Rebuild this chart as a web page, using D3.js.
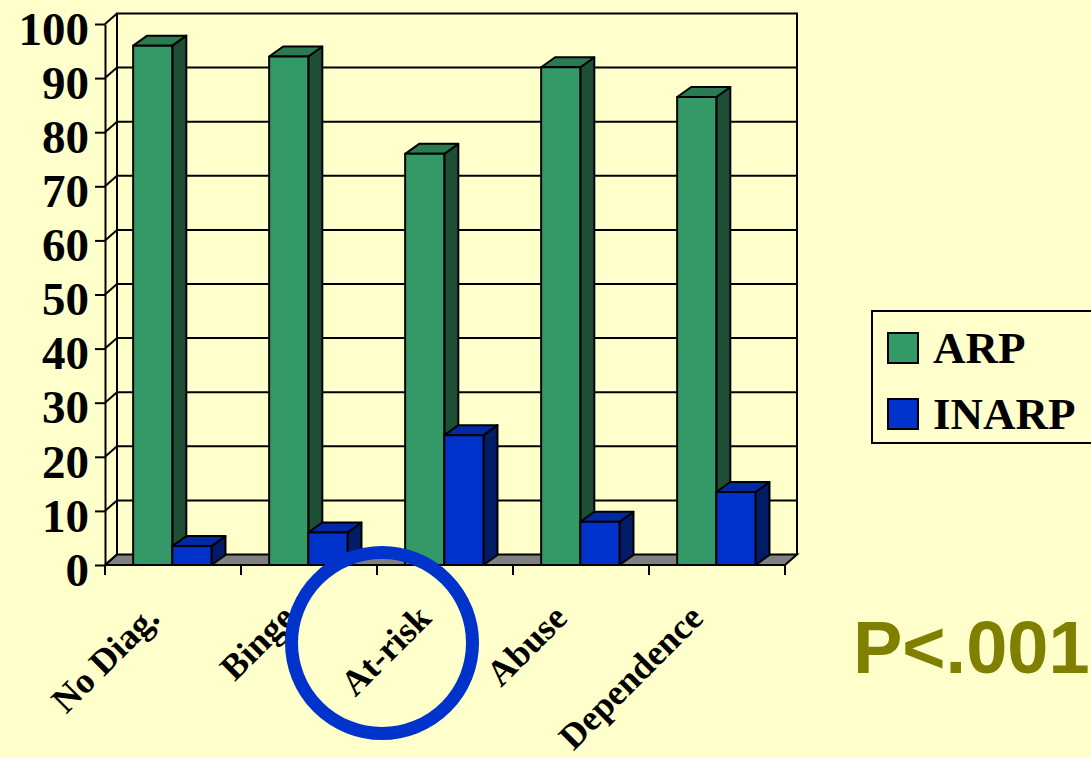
<!DOCTYPE html>
<html>
<head>
<meta charset="utf-8">
<script src="https://cdn.jsdelivr.net/npm/d3@7"></script>
<style>
  html, body { margin: 0; padding: 0; background: #FFFFCC; }
  svg { display: block; }
</style>
</head>
<body>
<svg id="chart" width="1091" height="758"></svg>
<script>
// data
let categories = ["No Diag.", "Binge", "At-risk", "Abuse", "Dependence"];
let arp = [96, 94, 76, 92, 86.5];
let inarp = [3.5, 6, 24, 8, 13.5];
let series = ["ARP", "INARP"];
let yTicks = [0, 10, 20, 30, 40, 50, 60, 70, 80, 90, 100];

let svg = d3.select("#chart");
let serif = "'Liberation Serif', 'Times New Roman', serif";

// plot box (front plane) and 3d offsets
let plotLeft = 105, plotRight = 785, plotTop = 24, plotBottom = 565;
let wallDx = 12, wallDy = -10.5;   // back wall
let barDx = 14, barDy = -10;       // bar depth

let x = d3.scaleBand().domain(categories).range([plotLeft, plotRight]).paddingInner(0).paddingOuter(0);
let y = d3.scaleLinear().domain([0, 100]).range([plotBottom, plotTop]);

let green = { front: "#339966", top: "#2A7B52", side: "#1D4F35" };
let blue  = { front: "#0033CC", top: "#0029A6", side: "#001C66" };

svg.append("rect").attr("width", 1091).attr("height", 758).attr("fill", "#FFFFCC");

let g = svg.append("g");

// floor
g.append("polygon")
  .attr("points", [[plotLeft, plotBottom], [plotRight, plotBottom], [plotRight + wallDx, plotBottom + wallDy], [plotLeft + wallDx, plotBottom + wallDy]].join(" "))
  .attr("fill", "#808080").attr("stroke", "#000").attr("stroke-width", 2);

// gridlines on back wall + side wall diagonals
yTicks.forEach(function(v) {
  if (v > 0 && v < 100) {
    g.append("line")
      .attr("x1", plotLeft + wallDx).attr("x2", plotRight + wallDx)
      .attr("y1", y(v) + wallDy).attr("y2", y(v) + wallDy)
      .attr("stroke", "#000").attr("stroke-width", 2);
  }
  g.append("line")
    .attr("x1", plotLeft).attr("y1", y(v))
    .attr("x2", plotLeft + wallDx).attr("y2", y(v) + wallDy)
    .attr("stroke", "#000").attr("stroke-width", 2);
});

// wall outlines
g.append("path")
  .attr("d", "M" + (plotLeft + wallDx) + "," + (plotBottom + wallDy) +
             "V" + (plotTop + wallDy) + "H" + (plotRight + wallDx) + "V" + (plotBottom + wallDy))
  .attr("fill", "none").attr("stroke", "#000").attr("stroke-width", 2);

// bars
let barW = x.bandwidth() * 0.288;
let off = x.bandwidth() * 0.207;

function drawBar(x0, v, c) {
  let y0 = y(0), y1 = y(v);
  let grp = g.append("g").attr("stroke", "#000").attr("stroke-width", 2).attr("stroke-linejoin", "round");
  grp.append("polygon")
    .attr("points", [[x0 + barW, y1], [x0 + barW + barDx, y1 + barDy], [x0 + barW + barDx, y0 + barDy], [x0 + barW, y0]].join(" "))
    .attr("fill", c.side);
  grp.append("polygon")
    .attr("points", [[x0, y1], [x0 + barDx, y1 + barDy], [x0 + barW + barDx, y1 + barDy], [x0 + barW, y1]].join(" "))
    .attr("fill", c.top);
  grp.append("rect")
    .attr("x", x0).attr("y", y1).attr("width", barW).attr("height", y0 - y1)
    .attr("fill", c.front);
}

categories.forEach(function(cat, i) {
  let x0 = x(cat) + off;
  drawBar(x0, arp[i], green);
  drawBar(x0 + barW, inarp[i], blue);
});

// front axes
let yAxis = g.append("g")
  .attr("transform", "translate(" + plotLeft + ",0)")
  .call(d3.axisLeft(y).tickValues(yTicks).tickSize(10).tickPadding(6).tickSizeOuter(0));
yAxis.select(".domain").attr("stroke", "#000").attr("stroke-width", 2);
yAxis.selectAll(".tick line").attr("stroke", "#000").attr("stroke-width", 2);
yAxis.selectAll(".tick text")
  .attr("font-family", serif).attr("font-weight", "bold").attr("font-size", "47px")
  .attr("fill", "#000").attr("dy", "0.43em");

g.append("line")
  .attr("x1", plotLeft).attr("x2", plotRight).attr("y1", plotBottom).attr("y2", plotBottom)
  .attr("stroke", "#000").attr("stroke-width", 2);

let bounds = categories.map(function(c) { return x(c); }).concat([x.range()[1]]);
g.selectAll(".xtick").data(bounds).enter().append("line")
  .attr("x1", function(d) { return d; }).attr("x2", function(d) { return d; })
  .attr("y1", plotBottom).attr("y2", plotBottom + 10)
  .attr("stroke", "#000").attr("stroke-width", 2);

g.selectAll(".xlab").data(categories).enter().append("text")
  .attr("transform", function(d) {
    return "translate(" + (x(d) + x.bandwidth() / 2 - 12) + "," + 620 + ") rotate(-45)";
  })
  .attr("text-anchor", "end")
  .attr("font-family", serif).attr("font-weight", "bold").attr("font-size", "36px")
  .text(function(d) { return d; });

// circle around At-risk
svg.append("circle")
  .attr("cx", 382).attr("cy", 643).attr("r", 90.5)
  .attr("fill", "none").attr("stroke", "#0033CC").attr("stroke-width", 13);

// legend
let lg = svg.append("g");
lg.append("rect").attr("x", 872).attr("y", 311).attr("width", 230).attr("height", 132)
  .attr("fill", "#FFFFCC").attr("stroke", "#000").attr("stroke-width", 2);
let legendColors = [green.front, blue.front];
series.forEach(function(s, i) {
  lg.append("rect").attr("x", 888).attr("y", 333 + i * 66).attr("width", 30).attr("height", 30)
    .attr("fill", legendColors[i]).attr("stroke", "#000").attr("stroke-width", 2);
  lg.append("text").attr("x", 933).attr("y", 363 + i * 66)
    .attr("font-family", serif).attr("font-weight", "bold").attr("font-size", "45px")
    .text(s);
});

// p-value
svg.append("text")
  .attr("x", 853).attr("y", 673)
  .attr("font-family", "'Liberation Sans', Arial, sans-serif").attr("font-weight", "bold")
  .attr("font-size", "74px").attr("fill", "#808000")
  .text("P<.001");
</script>
</body>
</html>
